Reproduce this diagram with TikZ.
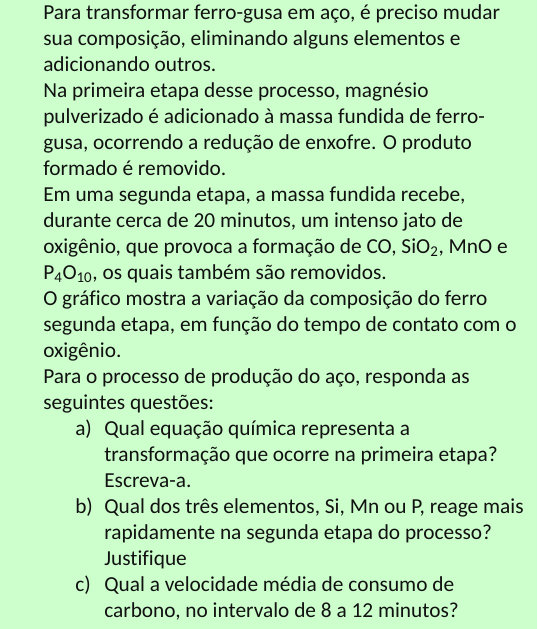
\documentclass[tikz,border=0pt]{standalone}
\usepackage{fontspec}
\setmainfont{Carlito}[Ligatures=NoCommon]
\usepackage{xcolor}
\usetikzlibrary{positioning}
\definecolor{bggreen}{HTML}{CCFFCC}
\definecolor{ink}{HTML}{111111}

\begin{document}
\begin{tikzpicture}[
    x=0.75pt, y=-0.75pt,
    txt/.style={anchor=base west, inner sep=0pt, text=ink, font=\fontsize{16pt}{19.5pt}\selectfont}
]

% Background
\fill[bggreen] (0,0) rectangle (537,629);
\useasboundingbox (0,0) rectangle (537,629);

% Text of the exercise
\foreach \t [count=\i from 0] in {
    {Para transformar ferro-gusa em aço, é preciso mudar},
    {sua composição, eliminando alguns elementos e},
    {adicionando outros.},
    {Na primeira etapa desse processo, magnésio},
    {pulverizado é adicionado à massa fundida de ferro-},
    {gusa, ocorrendo a redução de enxofre. O produto},
    {formado é removido.},
    {Em uma segunda etapa, a massa fundida recebe,},
    {durante cerca de 20 minutos, um intenso jato de},
    {oxigênio, que provoca a formação de CO, SiO\textsubscript{2}, MnO e},
    {P\textsubscript{4}O\textsubscript{10}, os quais também são removidos.},
    {O gráfico mostra a variação da composição do ferro},
    {segunda etapa, em função do tempo de contato com o},
    {oxigênio.},
    {Para o processo de produção do aço, responda as},
    {seguintes questões:}}
    \node[txt] (line\i) at (43, 19+26*\i) {\t};

% Questions
\node[txt] (qa) at (75, 19+26*16) {a)};
\node[txt] (qb) at (75, 19+26*19) {b)};
\node[txt] (qc) at (75, 19+26*22) {c)};

\foreach \t [count=\i from 16] in {
    {Qual equação química representa a},
    {transformação que ocorre na primeira etapa?},
    {Escreva-a.},
    {Qual dos três elementos, Si, Mn ou P, reage mais},
    {rapidamente na segunda etapa do processo?},
    {Justifique},
    {Qual a velocidade média de consumo de},
    {carbono, no intervalo de 8 a 12 minutos?}}
    \node[txt] (line\i) at (104, 19+26*\i) {\t};

\end{tikzpicture}
\end{document}
